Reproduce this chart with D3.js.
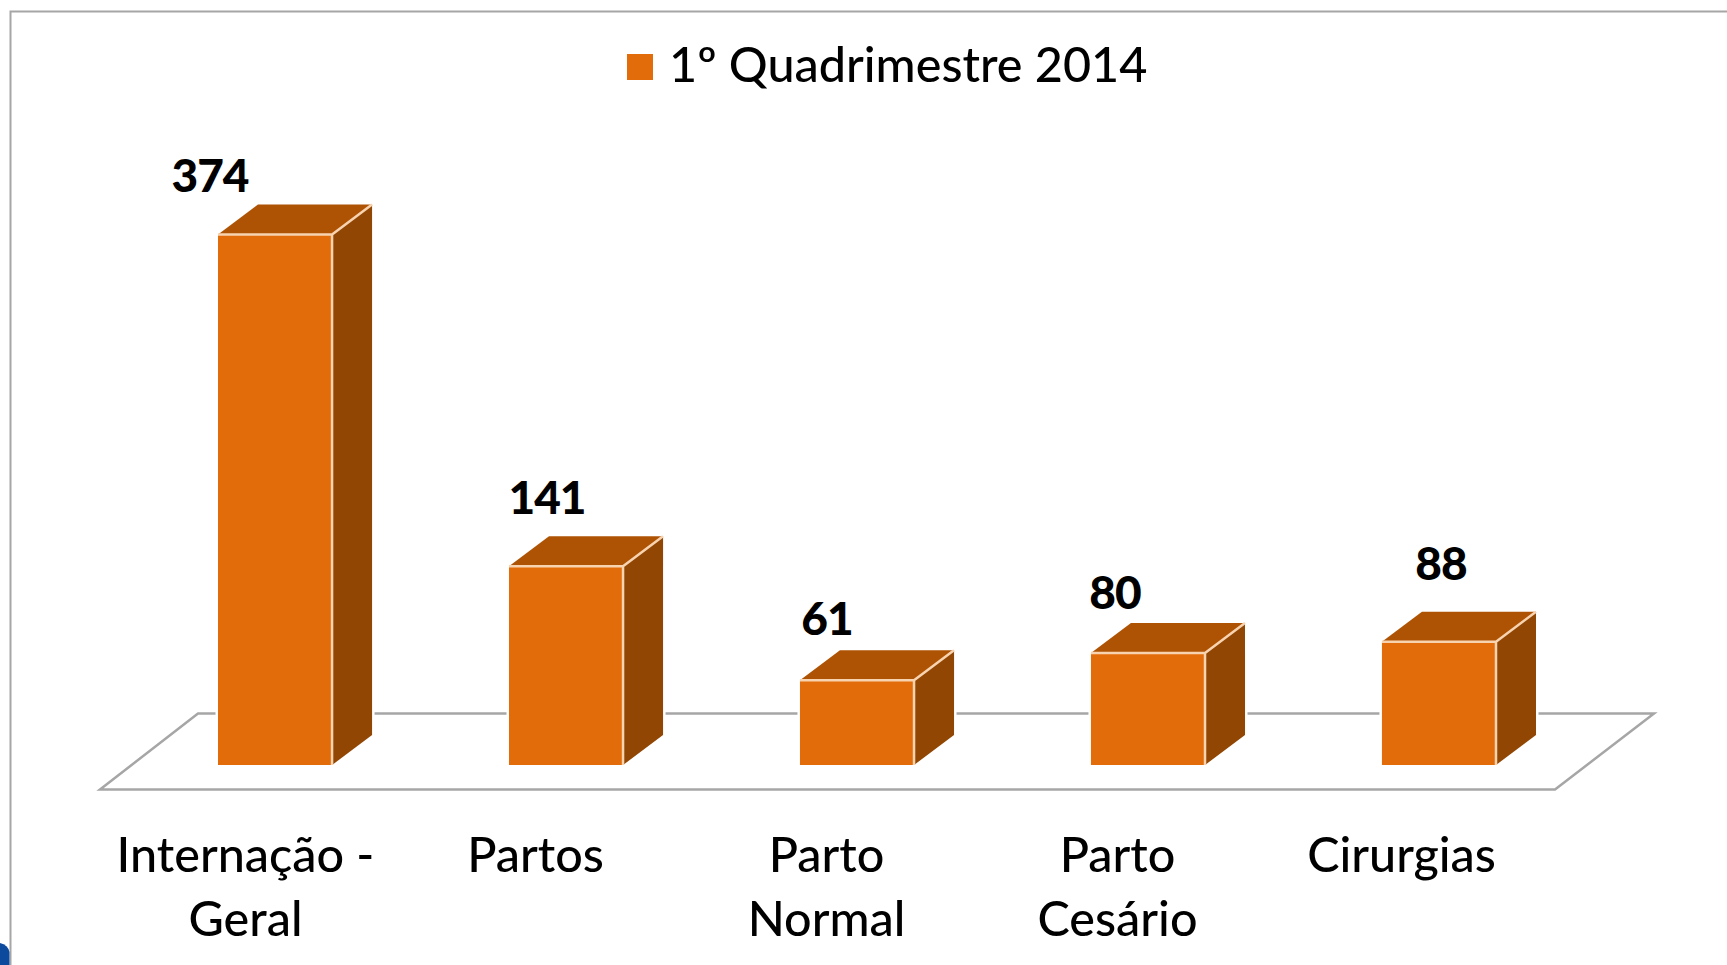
<!DOCTYPE html>
<html>
<head>
<meta charset="utf-8">
<script src="https://cdn.jsdelivr.net/npm/d3@7"></script>
<style>
  html, body { margin: 0; padding: 0; background: #fff; overflow: hidden; }
  text { font-family: Lato, "Open Sans", sans-serif; fill: #000; }
  .domain, .tick line { display: none; }
</style>
</head>
<body>
<div id="chart"></div>
<script>
var categories = [["Internação -", "Geral"], ["Partos"], ["Parto", "Normal"], ["Parto", "Cesário"], ["Cirurgias"]];
var values = [374, 141, 61, 80, 88];
var seriesName = "1º Quadrimestre 2014";

// data labels were dragged by hand in the original, so they each get a nudge
var labelNudgeX = [-65, -19, -30, -33, 2];
var labelNudgeY = [-43, -52, -45, -44, -62];
var tickNudgeX = [0, -1, -1, -1, -8];

var width = 1727, height = 965;
var base = 765, depthX = 40, depthY = 30;

var svg = d3.select("#chart").append("svg")
    .attr("width", width)
    .attr("height", height);

// outer frame, only the top and left edges are inside the picture
svg.append("path")
    .attr("d", "M10.5,965V11.5H1727")
    .attr("fill", "none")
    .attr("stroke", "#a6a6a6")
    .attr("stroke-width", 2);

// bit of the slide logo in the bottom corner
svg.append("path")
    .attr("d", "M0,943Q8,945 9.5,952V965H0Z")
    .attr("fill", "#0b4a9c");

// set the ranges
var x = d3.scaleBand()
    .domain(d3.range(values.length))
    .range([218, 1496])
    .paddingInner(0.608)
    .paddingOuter(0);
var y = d3.scaleLinear()
    .domain([0, 374])
    .range([767, 234.6]);
var xAxis = d3.scaleBand()
    .domain(d3.range(values.length))
    .range([100, 1555]);

// floor
svg.append("path")
    .attr("d", "M100,789.5L198,713.5H1654L1555,789.5Z")
    .attr("fill", "none")
    .attr("stroke", "#a6a6a6")
    .attr("stroke-width", 2.5);

var bars = svg.selectAll(".bar")
    .data(values)
    .enter().append("g")
    .attr("class", "bar");

function left(i) { return x(i); }
function right(i) { return x(i) + x.bandwidth(); }

// white gap round the bar where it crosses the floor line
bars.append("path")
    .attr("d", function(d, i) {
      return "M" + left(i) + "," + y(d) + "l" + depthX + "," + (-depthY) + "H" + (right(i) + depthX) +
             "V" + (base - depthY) + "l" + (-depthX) + "," + depthY + "H" + left(i) + "Z";
    })
    .attr("fill", "#fff")
    .attr("stroke", "#fff")
    .attr("stroke-width", 5);

// top face
bars.append("path")
    .attr("d", function(d, i) {
      return "M" + left(i) + "," + y(d) + "l" + depthX + "," + (-depthY) + "H" + (right(i) + depthX) +
             "l" + (-depthX) + "," + depthY + "Z";
    })
    .attr("fill", "#ae5204");

// side face
bars.append("path")
    .attr("d", function(d, i) {
      return "M" + right(i) + "," + y(d) + "l" + depthX + "," + (-depthY) + "V" + (base - depthY) +
             "l" + (-depthX) + "," + depthY + "Z";
    })
    .attr("fill", "#914603");

// front face
bars.append("rect")
    .attr("x", function(d, i) { return left(i); })
    .attr("y", function(d) { return y(d); })
    .attr("width", x.bandwidth())
    .attr("height", function(d) { return base - y(d); })
    .attr("fill", "#e36c0a");

// pale highlight along the top and right edges
bars.append("path")
    .attr("d", function(d, i) {
      return "M" + left(i) + "," + y(d) + "H" + right(i) + "V" + base +
             "M" + right(i) + "," + y(d) + "l" + depthX + "," + (-depthY);
    })
    .attr("fill", "none")
    .attr("stroke", "#f8d3b0")
    .attr("stroke-width", 2.5);

// value labels
svg.selectAll("text.value-label")
    .data(values)
    .enter().append("text")
    .attr("class", "value-label")
    .attr("x", function(d, i) { return x(i) + x.bandwidth() / 2 + labelNudgeX[i]; })
    .attr("y", function(d, i) { return y(d) + labelNudgeY[i]; })
    .attr("text-anchor", "middle")
    .attr("font-size", 46)
    .attr("font-weight", 900)
    .attr("letter-spacing", -1)
    .text(function(d) { return d; });

// category labels through an axis, then split into two lines
var axis = svg.append("g")
    .attr("transform", "translate(0,811)")
    .call(d3.axisBottom(xAxis).tickSize(0).tickPadding(0).tickFormat(function() { return ""; }));

axis.selectAll(".tick text")
    .attr("font-size", 48.5)
    .attr("font-weight", 500)
    .attr("y", 0)
    .attr("dy", 0)
    .each(function(d) {
      var t = d3.select(this);
      categories[d].forEach(function(line, j) {
        t.append("tspan")
          .attr("x", tickNudgeX[d])
          .attr("y", 61 + j * 64)
          .text(line);
      });
    });

// legend
svg.append("rect")
    .attr("x", 627)
    .attr("y", 54)
    .attr("width", 26)
    .attr("height", 26)
    .attr("fill", "#e36c0a");
svg.append("text")
    .attr("x", 669)
    .attr("y", 82)
    .attr("font-size", 48.5)
    .attr("font-weight", 500)
    .text(seriesName);
</script>
</body>
</html>
